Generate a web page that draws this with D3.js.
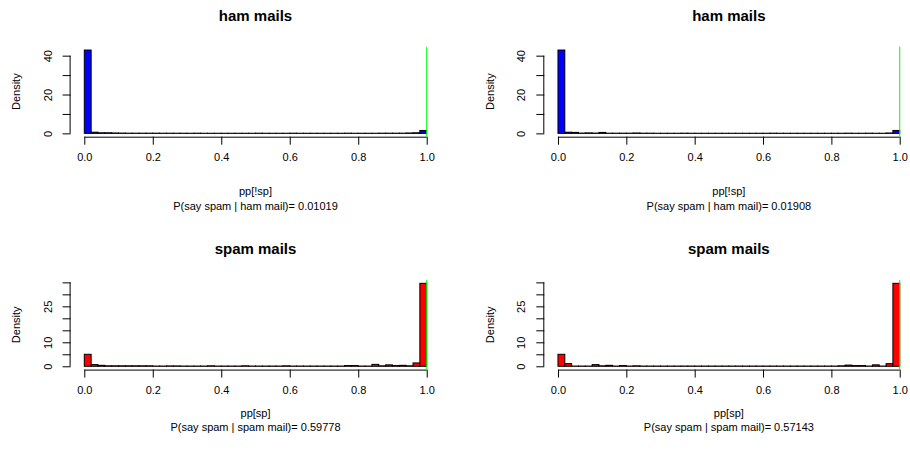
<!DOCTYPE html>
<html>
<head>
<meta charset="utf-8">
<title>ham / spam histograms</title>
<script src="https://d3js.org/d3.v7.min.js"></script>
<style>
  body { margin: 0; background: #fff; }
  svg text { font-family: "Liberation Sans", Arial, Helvetica, sans-serif; fill: #000; }
</style>
</head>
<body>
<div id="chart"></div>
<script>
// histogram breaks: 50 bins of width 0.02 on [0, 1]
var breaks = d3.range(0, 51).map(i => i / 50);

// densities per bin
var hamLeft = [42.9, 0.6, 0.3, 0.3, 0.2, 0.15, 0.1, 0.1, 0.1, 0.1,
               0.1, 0.08, 0.08, 0.08, 0.08, 0.06, 0.1, 0.06, 0.06, 0.06,
               0.06, 0.06, 0.06, 0.06, 0.06, 0.1, 0.06, 0.06, 0.06, 0.06,
               0.1, 0.06, 0.06, 0.06, 0.06, 0.06, 0.06, 0.06, 0.1, 0.06,
               0.06, 0.06, 0.06, 0.1, 0.1, 0.1, 0.1, 0.2, 0.3, 1.5];
var hamRight = [42.9, 0.6, 0.5, 0.15, 0.25, 0.15, 0.5, 0.1, 0.1, 0.1,
                0.1, 0.2, 0.1, 0.1, 0.06, 0.06, 0.06, 0.06, 0.1, 0.06,
                0.06, 0.06, 0.06, 0.06, 0.06, 0.06, 0.06, 0.06, 0.06, 0.06,
                0.06, 0.1, 0.06, 0.06, 0.06, 0.06, 0.06, 0.06, 0.06, 0.06,
                0.06, 0.06, 0.1, 0.06, 0.06, 0.1, 0.06, 0.06, 0.2, 1.5];
var spamLeft = [5.0, 0.7, 0.4, 0.2, 0.2, 0.2, 0.2, 0.2, 0.2, 0.2,
                0.1, 0.1, 0.15, 0.15, 0.1, 0.1, 0.1, 0.1, 0.2, 0.1,
                0.1, 0.1, 0.1, 0.2, 0.1, 0.1, 0.1, 0.1, 0.1, 0.2,
                0.1, 0.1, 0.1, 0.1, 0.1, 0.1, 0.1, 0.1, 0.3, 0.3,
                0.1, 0.1, 0.8, 0.2, 0.6, 0.3, 0.4, 0.2, 1.4, 34.6];
var spamRight = [5.0, 1.1, 0.1, 0.1, 0.1, 0.7, 0.2, 0.4, 0.1, 0.3,
                 0.1, 0.2, 0.1, 0.1, 0.1, 0.1, 0.1, 0.1, 0.1, 0.1,
                 0.1, 0.1, 0.1, 0.1, 0.1, 0.1, 0.1, 0.1, 0.1, 0.1,
                 0.1, 0.1, 0.1, 0.1, 0.1, 0.1, 0.1, 0.1, 0.1, 0.1,
                 0.1, 0.2, 0.5, 0.3, 0.3, 0.1, 0.6, 0.1, 1.1, 34.6];

var xTicks = [0, 0.2, 0.4, 0.6, 0.8, 1.0];
var hamYTicks = [0, 10, 20, 30, 40];
var hamYLabels = [0, 20, 40];
var spamYTicks = [0, 5, 10, 15, 20, 25, 30, 35];
var spamYLabels = [0, 10, 25];

var titles = ["ham mails", "ham mails", "spam mails", "spam mails"];
var xLabels = ["pp[!sp]", "pp[!sp]", "pp[sp]", "pp[sp]"];
var subs = ["P(say spam | ham mail)= 0.01019", "P(say spam | ham mail)= 0.01908",
            "P(say spam | spam mail)= 0.59778", "P(say spam | spam mail)= 0.57143"];
var threshold = 1.0;

var width = 910, height = 450;

var svg = d3.select("#chart").append("svg")
    .attr("width", width)
    .attr("height", height);

// plot regions (pixels) for the 2x2 layout
var cols = [[70.6, 440.4], [544.3, 913.4]];
var rows = [[46.7, 136.7], [280, 369.6]];
// distance of xlab / sub below the plot region, per row
var xlabGap = [54.5, 43.5];
var subGap = [69, 58];

var panels = [
  {data: hamLeft,   col: 0, row: 0, fill: "#0000ff", ticks: hamYTicks,  labels: hamYLabels},
  {data: hamRight,  col: 1, row: 0, fill: "#0000ff", ticks: hamYTicks,  labels: hamYLabels},
  {data: spamLeft,  col: 0, row: 1, fill: "#ff0000", ticks: spamYTicks, labels: spamYLabels},
  {data: spamRight, col: 1, row: 1, fill: "#ff0000", ticks: spamYTicks, labels: spamYLabels}
];

panels.forEach(function(p, i) {
  var left = cols[p.col][0], right = cols[p.col][1];
  var top = rows[p.row][0], bottom = rows[p.row][1];
  var ymax = d3.max(p.data);

  // R style: 4% extension on both ends
  var x = d3.scaleLinear().domain([-0.04, 1.04]).range([left, right]);
  var y = d3.scaleLinear().domain([-0.04 * ymax, 1.04 * ymax]).range([bottom, top]);

  var g = svg.append("g");

  var bins = p.data.map((d, k) => ({x0: breaks[k], x1: breaks[k + 1], d: d}));

  g.selectAll(".bar")
    .data(bins)
    .enter().append("rect")
    .attr("class", "bar")
    .attr("x", b => x(b.x0))
    .attr("width", b => x(b.x1) - x(b.x0))
    .attr("y", b => y(b.d))
    .attr("height", b => y(0) - y(b.d))
    .attr("fill", p.fill)
    .attr("stroke", "#000")
    .attr("stroke-width", 1);

  // x axis
  var gx = g.append("g")
    .attr("transform", "translate(0," + bottom + ")")
    .call(d3.axisBottom(x).tickValues(xTicks).tickSize(8).tickPadding(9)
      .tickFormat(d3.format(".1f")));
  gx.select(".domain").attr("d", "M" + x(0) + ",0.5H" + x(1));
  gx.selectAll("line").attr("stroke", "#000");
  gx.selectAll("text").style("font-size", "11px");

  // y axis, labels parallel to axis
  var gy = g.append("g")
    .attr("transform", "translate(" + left + ",0)")
    .call(d3.axisLeft(y).tickValues(p.ticks).tickSize(8)
      .tickFormat(d => p.labels.indexOf(d) >= 0 ? d : ""));
  gy.select(".domain").attr("d", "M-0.5," + y(p.ticks[0]) + "V" + y(p.ticks[p.ticks.length - 1]));
  gy.selectAll("text")
    .attr("transform", "rotate(-90)")
    .attr("x", 0)
    .attr("y", -22.7)
    .attr("dy", "0.35em")
    .style("text-anchor", "middle")
    .style("font-size", "11px");

  // threshold line
  g.append("line")
    .attr("x1", x(threshold)).attr("x2", x(threshold))
    .attr("y1", top).attr("y2", bottom)
    .attr("stroke", "#00ff00")
    .attr("stroke-width", 1);

  var cx = (left + right) / 2;
  g.append("text")
    .attr("x", cx).attr("y", top - 31)
    .attr("dy", "0.35em")
    .attr("text-anchor", "middle")
    .style("font-size", "15px")
    .style("font-weight", "bold")
    .text(titles[i]);

  g.append("text")
    .attr("x", cx).attr("y", bottom + xlabGap[p.row])
    .attr("dy", "0.35em")
    .attr("text-anchor", "middle")
    .style("font-size", "11px")
    .text(xLabels[i]);

  g.append("text")
    .attr("x", cx).attr("y", bottom + subGap[p.row])
    .attr("dy", "0.35em")
    .attr("text-anchor", "middle")
    .style("font-size", "11px")
    .text(subs[i]);

  g.append("text")
    .attr("transform", "translate(" + (left - 54) + "," + ((top + bottom) / 2) + ") rotate(-90)")
    .attr("dy", "0.35em")
    .attr("text-anchor", "middle")
    .style("font-size", "11px")
    .text("Density");
});
</script>
</body>
</html>
